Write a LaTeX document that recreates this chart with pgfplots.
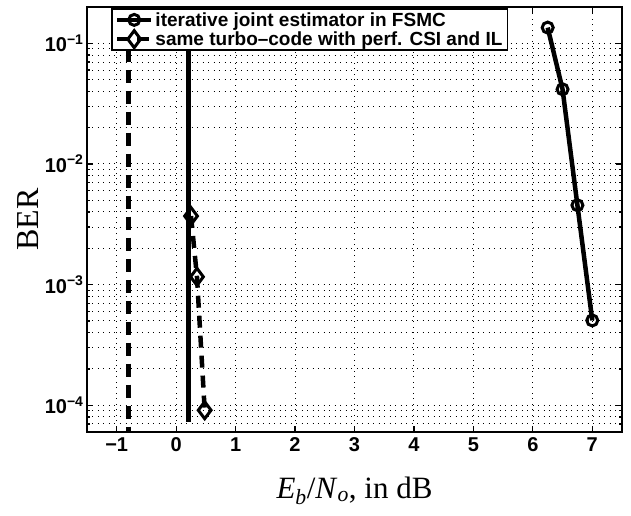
\documentclass[border=0pt]{standalone}
\usepackage{fontspec}
\setmainfont{Liberation Sans}
\newfontfamily\timesf{Liberation Serif}
\usepackage{pgfplots}
\pgfplotsset{compat=1.18}

\begin{document}
\begin{tikzpicture}
\useasboundingbox (-87pt,-83pt) rectangle (544pt,432pt);
\begin{axis}[
    scale only axis,
    width=535pt, height=425pt,
    xmin=-1.5, xmax=7.5,
    ymode=log, ymin=6e-5, ymax=0.2,
    xtick={-1,0,1,2,3,4,5,6,7},
    xticklabels={−1,0,1,2,3,4,5,6,7},
    ytick={1e-4,1e-3,1e-2,1e-1},
    yticklabels={10\textsuperscript{−4},10\textsuperscript{−3},10\textsuperscript{−2},10\textsuperscript{−1}},
    minor ytick={7e-5,8e-5,9e-5,2e-4,3e-4,4e-4,5e-4,6e-4,7e-4,8e-4,9e-4,
                 2e-3,3e-3,4e-3,5e-3,6e-3,7e-3,8e-3,9e-3,
                 2e-2,3e-2,4e-2,5e-2,6e-2,7e-2,8e-2,9e-2},
    tick label style={font=\fontsize{20}{22}\selectfont\bfseries},
    xticklabel style={yshift=-2pt},
    xmajorgrids, ymajorgrids, yminorgrids,
    major grid style={black, line width=1pt, dash pattern=on 1pt off 4.5pt},
    minor grid style={black, line width=1pt, dash pattern=on 1pt off 4.5pt},
    tick align=inside,
    major tick length=6pt, minor tick length=3.5pt,
    every tick/.style={black, line width=1.2pt},
    axis line style={line width=2pt},
    ylabel={\timesf BER},
    ylabel style={font=\fontsize{32}{34}\selectfont, at={(axis description cs:-0.11,0.5)}, anchor=center},
    xlabel={\timesf\textit{E}\textsubscript{\textit{b}}/\textit{N}\textsubscript{\textit{o}}, in dB},
    xlabel style={font=\fontsize{31}{33}\selectfont, at={(axis description cs:0.5,-0.138)}, anchor=center},
    legend style={at={(axis description cs:0.045,0.998)}, anchor=north west,
        draw=black, line width=1.8pt, fill=white,
        font=\fontsize{19}{22}\selectfont\bfseries, inner xsep=3pt, inner ysep=1.5pt,
        row sep=0pt},
    legend cell align=left,
    legend image code/.code={\draw[mark repeat=2,mark phase=2,#1]
        plot coordinates {(0pt,0pt) (17pt,0pt) (34pt,0pt)};},
]
% vertical reference lines
\addplot[black, line width=4.5pt, dash pattern=on 13pt off 8pt, forget plot]
    coordinates {(-0.8,1) (-0.8,1e-5)};
\addplot[black, line width=4.5pt, forget plot]
    coordinates {(0.21,1) (0.21,7.2e-5)};

\addplot[black, line width=4.5pt, mark=o,
    mark options={solid, fill=white, line width=3pt}, mark size=5.5pt]
    coordinates {(6.25,0.135) (6.5,0.0416) (6.75,0.00455) (7,5.05e-4)};
\addlegendentry{iterative joint estimator in FSMC}

\addplot[black, line width=4.5pt, dash pattern=on 12pt off 8pt, mark=diamond,
    mark options={solid, fill=white, line width=3pt}, mark size=8.5pt]
    coordinates {(0.25,3.7e-3) (0.35,1.16e-3) (0.48,9.1e-5)};
\addlegendentry{same turbo–code with perf. CSI and IL}
\end{axis}
\end{tikzpicture}
\end{document}
